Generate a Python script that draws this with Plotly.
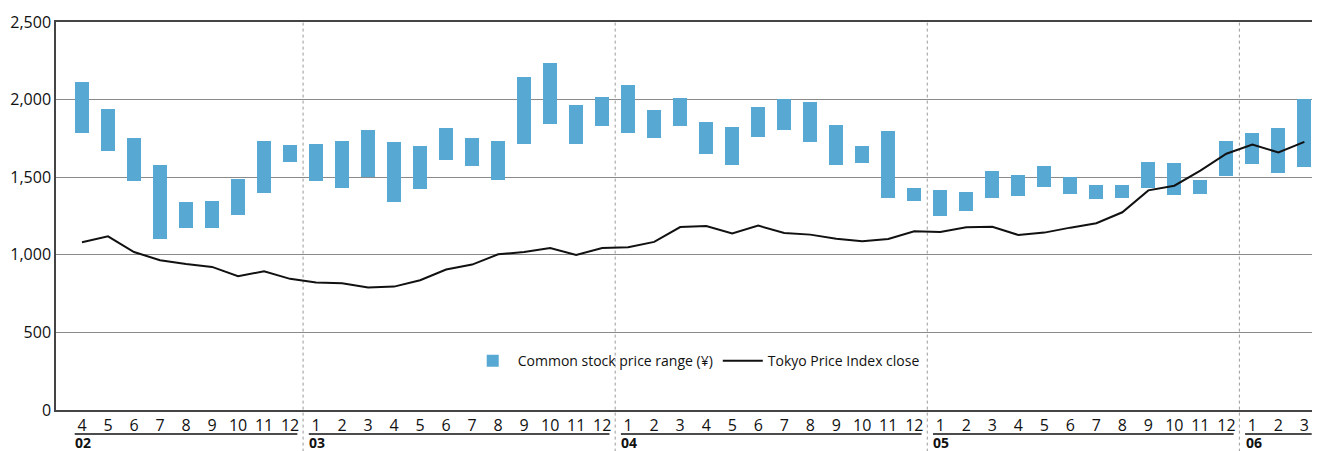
import plotly.graph_objects as go

months = ["4","5","6","7","8","9","10","11","12",
          "1","2","3","4","5","6","7","8","9","10","11","12",
          "1","2","3","4","5","6","7","8","9","10","11","12",
          "1","2","3","4","5","6","7","8","9","10","11","12",
          "1","2","3"]
years = ["02", "03", "04", "05", "06"]
year_start = [0, 9, 21, 33, 45]
year_end = [8, 20, 32, 44, 47]

price_high = [2114, 1940, 1754, 1580, 1342, 1349, 1490, 1735, 1709,
              1715, 1735, 1805, 1728, 1702, 1818, 1754, 1735, 2146, 2236, 1966, 2017,
              2095, 1934, 2011, 1857, 1825, 1953, 2005, 1985, 1837, 1698, 1799, 1432,
              1419, 1406, 1542, 1516, 1574, 1501, 1451, 1451, 1599, 1593, 1484, 1735,
              1786, 1818, 2002]
price_low = [1782, 1670, 1477, 1100, 1175, 1175, 1259, 1400, 1599,
             1477, 1432, 1499, 1342, 1426, 1608, 1569, 1479, 1717, 1840, 1711, 1833,
             1782, 1750, 1827, 1647, 1576, 1762, 1801, 1730, 1576, 1589, 1368, 1349,
             1252, 1284, 1368, 1381, 1439, 1394, 1361, 1368, 1432, 1387, 1394, 1509,
             1587, 1529, 1567]
topix_close = [1081, 1119, 1018, 965, 941, 922, 862, 894, 845,
               821, 817, 789, 795, 836, 905, 937, 1003, 1018, 1044, 999, 1044,
               1048, 1083, 1179, 1186, 1138, 1188, 1141, 1130, 1104, 1087, 1102, 1151,
               1147, 1177, 1181, 1128, 1143, 1175, 1203, 1274, 1415, 1445, 1542, 1651,
               1711, 1659, 1728]

idx = list(range(len(months)))
FONT = "Open Sans"

fig = go.Figure()
fig.add_trace(go.Bar(
    x=idx, base=price_low, y=[h - l for h, l in zip(price_high, price_low)],
    width=0.54, marker=dict(color="#58a8d4", line=dict(width=0)),
    name="Common stock price range (¥)"))
fig.add_trace(go.Scatter(
    x=idx, y=topix_close, mode="lines", line=dict(color="#111111", width=2),
    name="Tokyo Price Index close"))

shapes = []
annotations = []
for i, (y, s, e) in enumerate(zip(years, year_start, year_end)):
    shapes.append(dict(type="line", xref="x", yref="paper", x0=s - 0.28, x1=e + 0.28,
                       y0=-0.062, y1=-0.062, line=dict(color="#111111", width=1.5)))
    annotations.append(dict(x=s - 0.3, y=-0.0835, xref="x", yref="paper", text="<b>" + y + "</b>",
                            showarrow=False, xanchor="left", yanchor="middle", borderpad=0,
                            font=dict(family=FONT, size=14, color="#111111")))
    if i > 0:
        shapes.append(dict(type="line", xref="x", yref="paper", x0=s - 0.5, x1=s - 0.5,
                           y0=-0.2, y1=1, layer="below",
                           line=dict(color="#9a9a9a", width=1, dash="dot")))

fig.update_layout(
    width=1312, height=443,
    margin=dict(l=48, r=0, t=14, b=41),
    plot_bgcolor="white", paper_bgcolor="white",
    font=dict(family=FONT, size=16, color="#111111"),
    showlegend=True,
    legend=dict(orientation="h", x=0.5065, y=0.126, xanchor="center", yanchor="middle",
                font=dict(family=FONT, size=14, color="#111111"), bgcolor="rgba(0,0,0,0)",
                itemwidth=40, tracegroupgap=0),
    xaxis=dict(range=[-1, 47.6], tickmode="array", tickvals=idx, ticktext=months,
               showgrid=False, zeroline=False, showline=True, mirror=True,
               linecolor="#444444", linewidth=1.5, ticks="", tickfont=dict(size=16),
               fixedrange=True),
    yaxis=dict(range=[0, 2500], tickvals=[0, 500, 1000, 1500, 2000, 2500],
               ticktext=["0", "500", "1,000", "1,500", "2,000", "2,500"],
               showgrid=True, gridcolor="#8a8a8a", gridwidth=1, zeroline=False,
               showline=True, linecolor="#444444", linewidth=1.5, ticks="",
               tickfont=dict(size=16), fixedrange=True),
    shapes=shapes, annotations=annotations, bargap=0,
)
fig.write_html("out.html")
